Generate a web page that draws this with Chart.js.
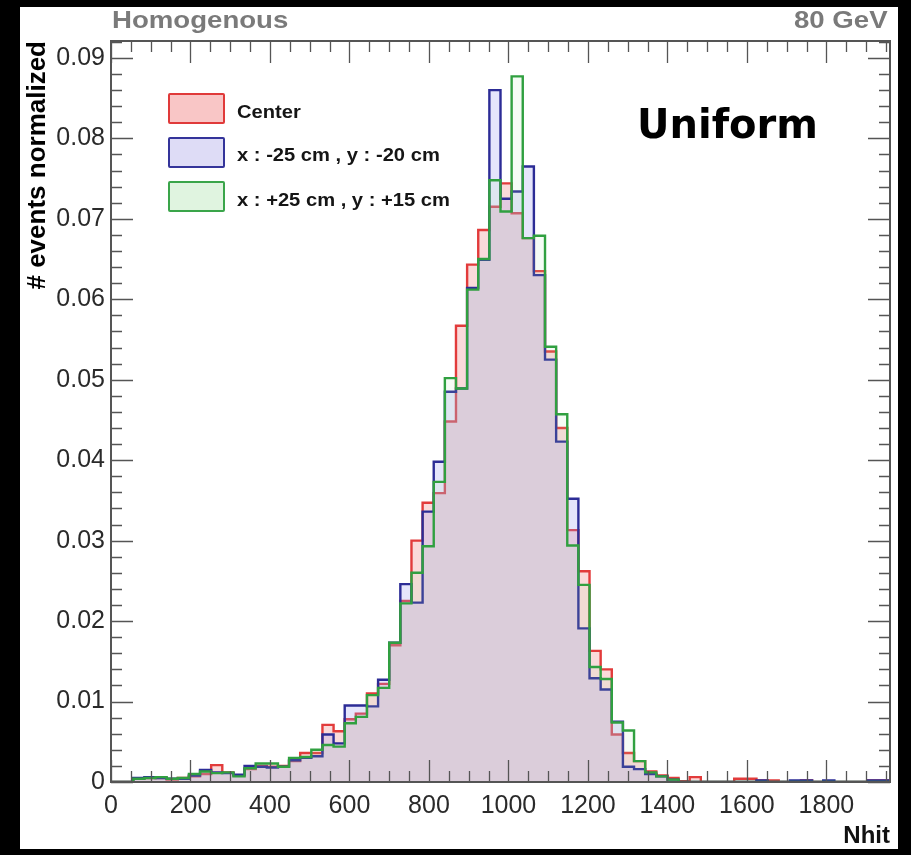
<!DOCTYPE html>
<html>
<head>
<meta charset="utf-8">
<script src="https://cdn.jsdelivr.net/npm/chart.js@4.4.1/dist/chart.umd.min.js"></script>
<style>
  body { margin: 0; background: #000; }
  #wrap { position: relative; width: 911px; height: 855px; background: #000; overflow: hidden; }
  #panel { position: absolute; left: 20px; top: 7px; width: 878px; height: 842px; background: #fff; }
  #c { position: absolute; left: 0; top: 0; }
  .txt { position: absolute; white-space: nowrap; font-family: "Liberation Sans", Arial, sans-serif; font-weight: bold; line-height: 1; }
  .head { font-size: 24px; color: #7a7a7a; transform-origin: left top; transform: scaleX(1.15); top: 8px; }
  .leg { font-size: 18px; color: #151515; left: 237px; transform-origin: left top; transform: scaleX(1.12); }
  .box { position: absolute; left: 168px; width: 53px; height: 27px; border: 2px solid; border-radius: 2px; }
  #uni { font-family: "DejaVu Sans", sans-serif; font-size: 40px; color: #000; left: 637px; top: 104px; }
</style>
</head>
<body>
<div id="wrap">
  <div id="panel"></div>
  <canvas id="c" width="911" height="855"></canvas>
  <div class="txt head" style="left:112px">Homogenous</div>
  <div class="txt head" id="gev" style="left:796px">80 GeV</div>
  <div class="txt" id="uni">Uniform</div>
  <div class="box" style="top:93px; border-color:#e03a3a; background:#f9c6c6"></div>
  <div class="box" style="top:137px; border-color:#34349a; background:#dedcf6"></div>
  <div class="box" style="top:181px; border-color:#3aa54a; background:#e0f4e0"></div>
  <div class="txt leg" style="top:103px">Center</div>
  <div class="txt leg" style="top:146px">x : -25 cm , y : -20 cm</div>
  <div class="txt leg" style="top:191px">x : +25 cm , y : +15 cm</div>
</div>
<script>
// histogram bins (lower edges), 28 Nhit wide
const binLow = [0, 28, 56, 84, 112, 140, 168, 196, 224, 252,
  280, 308, 336, 364, 392, 420, 448, 476, 504, 532,
  560, 588, 616, 644, 672, 700, 728, 756, 784, 812,
  840, 868, 896, 924, 952, 980, 1008, 1036, 1064, 1092,
  1120, 1148, 1176, 1204, 1232, 1260, 1288, 1316, 1344, 1372,
  1400, 1428, 1456, 1484, 1512, 1540, 1568, 1596, 1624, 1652,
  1680, 1708, 1736, 1764, 1792, 1820, 1848, 1876, 1904, 1932];
const xMax = 1960;

const centerVals = [0, 0, 0, 0.0004, 0.0005, 0.0005, 0.0003, 0.0005, 0.0007, 0.0010,
  0.0021, 0.0012, 0.0008, 0.0016, 0.0020, 0.0019, 0.0020, 0.0026, 0.0036, 0.0036,
  0.0071, 0.0063, 0.0078, 0.0085, 0.0110, 0.0122, 0.0170, 0.0225, 0.0300, 0.0347,
  0.0359, 0.0448, 0.0567, 0.0643, 0.0686, 0.0715, 0.0744, 0.0707, 0.0676, 0.0635,
  0.0535, 0.0440, 0.0313, 0.0262, 0.0163, 0.0140, 0.0059, 0.0036, 0.0026, 0.0013,
  0.0008, 0.0005, 0.0001, 0.0006, 0, 0, 0, 0.0004, 0.0004, 0.0002,
  0.0002, 0, 0, 0.0002, 0, 0, 0, 0, 0, 0.0002];

// x : -25 cm , y : -20 cm
const posAVals = [0, 0, 0, 0.0005, 0.0006, 0.0005, 0.0004, 0.0004, 0.0008, 0.0015,
  0.0012, 0.0011, 0.0009, 0.0020, 0.0019, 0.0018, 0.0019, 0.0027, 0.0030, 0.0032,
  0.0059, 0.0048, 0.0095, 0.0095, 0.0094, 0.0127, 0.0173, 0.0246, 0.0223, 0.0336,
  0.0398, 0.0485, 0.0489, 0.0614, 0.0649, 0.0860, 0.0725, 0.0734, 0.0765, 0.0630,
  0.0525, 0.0423, 0.0352, 0.0191, 0.0129, 0.0115, 0.0075, 0.0019, 0.0016, 0.0010,
  0.0007, 0.0003, 0, 0, 0, 0, 0, 0, 0, 0.0002,
  0, 0, 0.0002, 0.0002, 0, 0.0002, 0, 0, 0, 0.0002];

// x : +25 cm , y : +15 cm
const posBVals = [0, 0, 0, 0.0004, 0.0005, 0.0006, 0.0004, 0.0005, 0.0010, 0.0013,
  0.0011, 0.0012, 0.0007, 0.0017, 0.0023, 0.0023, 0.0019, 0.0030, 0.0031, 0.0040,
  0.0046, 0.0044, 0.0073, 0.0081, 0.0108, 0.0117, 0.0173, 0.0222, 0.0260, 0.0293,
  0.0373, 0.0502, 0.0489, 0.0612, 0.0650, 0.0748, 0.0709, 0.0877, 0.0676, 0.0679,
  0.0541, 0.0457, 0.0294, 0.0245, 0.0143, 0.0128, 0.0074, 0.0064, 0.0026, 0.0012,
  0.0007, 0.0003, 0, 0, 0, 0, 0, 0, 0, 0,
  0, 0, 0, 0, 0, 0, 0, 0, 0, 0];

const xTicks = [0, 200, 400, 600, 800, 1000, 1200, 1400, 1600, 1800];
const yTicks = [0, 0.01, 0.02, 0.03, 0.04, 0.05, 0.06, 0.07, 0.08, 0.09];
const yTickLabels = ['0', '0.01', '0.02', '0.03', '0.04', '0.05', '0.06', '0.07', '0.08', '0.09'];

function histPoints(vals) {
  const pts = binLow.map((x, i) => ({ x: x, y: vals[i] }));
  pts.push({ x: xMax, y: vals[vals.length - 1] });
  return pts;
}

// ROOT style frame with inner ticks on all four sides
const frameTicks = {
  id: 'frameTicks',
  afterDatasetsDraw(chart) {
    const { ctx, chartArea: a, scales: { x, y } } = chart;
    ctx.save();
    ctx.strokeStyle = '#555';
    ctx.lineWidth = 1.3;
    ctx.beginPath();
    for (let v = 0; v <= xMax; v += 50) {
      const px = Math.round(x.getPixelForValue(v)) + 0.5;
      const len = v % 200 === 0 ? 22 : 11;
      ctx.moveTo(px, a.bottom); ctx.lineTo(px, a.bottom - len);
      ctx.moveTo(px, a.top); ctx.lineTo(px, a.top + len);
    }
    for (let k = 0; k <= 46; k++) {
      const py = Math.round(y.getPixelForValue(k * 0.002)) + 0.5;
      const len = k % 5 === 0 ? 22 : 11;
      ctx.moveTo(a.left, py); ctx.lineTo(a.left + len, py);
      ctx.moveTo(a.right, py); ctx.lineTo(a.right - len, py);
    }
    ctx.stroke();
    ctx.lineWidth = 2;
    ctx.strokeRect(a.left, a.top, a.right - a.left, a.bottom - a.top);
    ctx.restore();
  }
};

new Chart(document.getElementById('c'), {
  type: 'line',
  data: {
    datasets: [
      { label: 'Center', data: histPoints(centerVals), stepped: 'after', fill: 'origin',
        borderColor: '#e23b3b', backgroundColor: 'rgba(240,150,150,0.35)', borderWidth: 2.4, order: 3 },
      { label: 'x : -25 cm , y : -20 cm', data: histPoints(posAVals), stepped: 'after', fill: 'origin',
        borderColor: '#2c2c96', backgroundColor: 'rgba(150,150,240,0.25)', borderWidth: 2.4, order: 2 },
      { label: 'x : +25 cm , y : +15 cm', data: histPoints(posBVals), stepped: 'after', fill: 'origin',
        borderColor: '#30a040', backgroundColor: 'rgba(170,230,170,0.12)', borderWidth: 2.4, order: 1 }
    ]
  },
  options: {
    responsive: false,
    animation: false,
    devicePixelRatio: 1,
    elements: { point: { radius: 0 }, line: { tension: 0 } },
    layout: { padding: { left: 20, top: 41, right: 21, bottom: 4 } },
    plugins: { legend: { display: false }, tooltip: { enabled: false } },
    scales: {
      x: {
        type: 'linear', min: 0, max: xMax,
        grid: { display: false, drawTicks: false },
        border: { display: false },
        afterBuildTicks: s => { s.ticks = xTicks.map(v => ({ value: v })); },
        afterFit: s => { s.height = 69; },
        ticks: { padding: 9, color: '#2a2a2a', maxRotation: 0, autoSkip: false,
          font: { family: 'Liberation Sans', size: 25 }, callback: v => String(v) },
        title: { display: true, text: 'Nhit', align: 'end', color: '#111',
          padding: { top: 0, bottom: 0 }, font: { family: 'Liberation Sans', size: 24, weight: 'bold' } }
      },
      y: {
        type: 'linear', min: 0, max: 0.0921,
        grid: { display: false, drawTicks: false },
        border: { display: false },
        afterBuildTicks: s => { s.ticks = yTicks.map(v => ({ value: v })); },
        afterFit: s => { s.width = 91; },
        ticks: { padding: 6, color: '#2a2a2a', autoSkip: false,
          font: { family: 'Liberation Sans', size: 25 }, callback: (v, i) => yTickLabels[i] },
        title: { display: true, text: '# events normalized', align: 'end', color: '#000',
          padding: { top: 2, bottom: 0 }, font: { family: 'Liberation Sans', size: 26, weight: 'bold' } }
      }
    }
  },
  plugins: [frameTicks]
});

// right-align "80 GeV" to the frame edge
const gev = document.getElementById('gev');
gev.style.left = (888 - gev.getBoundingClientRect().width) + 'px';
</script>
</body>
</html>
